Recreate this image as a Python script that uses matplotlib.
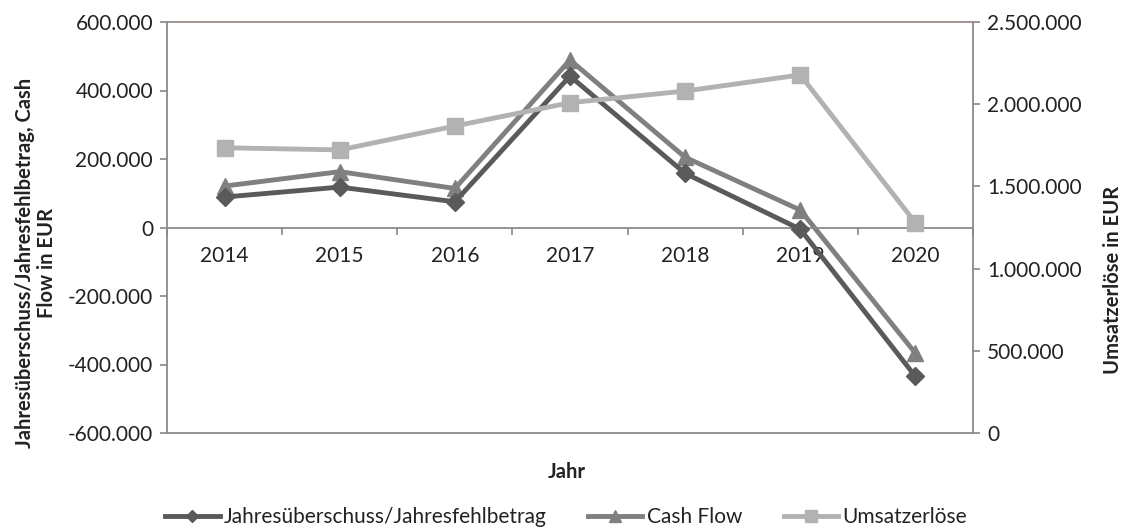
import matplotlib
matplotlib.use("Agg")
import matplotlib.pyplot as plt
from matplotlib.ticker import FuncFormatter, FixedLocator
import numpy as np

years = ["2014", "2015", "2016", "2017", "2018", "2019", "2020"]
jahresueberschuss = [89000, 118000, 75000, 442000, 158000, -5000, -435000]
cash_flow = [121000, 163000, 114000, 489000, 205000, 51000, -367000]
umsatzerloese = [1735000, 1722000, 1867000, 2009000, 2080000, 2178000, 1279000]

plt.rcParams['font.family'] = ['Lato', 'DejaVu Sans']

def de_fmt(v, pos=None):
    s = f"{abs(v):,.0f}".replace(",", ".")
    return ("-" + s) if v < 0 else s

fig = plt.figure(figsize=(11.26, 5.31), dpi=100)
ax = fig.add_axes([167/1126, 1-433/531, (973-167)/1126, (433-22)/531])
ax2 = ax.twinx()

c_j = "#5a5a5a"
c_c = "#808080"
c_u = "#b2b2b2"
tc = "#222222"

x = np.arange(len(years))
l1, = ax.plot(x, jahresueberschuss, color=c_j, lw=3.5, marker="D", ms=9, zorder=3,
              label="Jahresüberschuss/Jahresfehlbetrag")
l2, = ax.plot(x, cash_flow, color=c_c, lw=3.5, marker="^", ms=12, zorder=2,
              label="Cash Flow")
l3, = ax2.plot(x, umsatzerloese, color=c_u, lw=3.5, marker="s", ms=12,
               label="Umsatzerlöse")

ax.set_xlim(-0.5, len(years) - 0.5)
ax.set_ylim(-600000, 600000)
ax2.set_ylim(0, 2500000)
ax.set_yticks(np.arange(-600000, 600001, 200000))
ax2.set_yticks(np.arange(0, 2500001, 500000))
ax.yaxis.set_major_formatter(FuncFormatter(de_fmt))
ax2.yaxis.set_major_formatter(FuncFormatter(de_fmt))

# x axis on the zero line
ax.spines['bottom'].set_position(('data', 0))
ax.set_xticks(x)
ax.set_xticklabels(years)
ax.xaxis.set_minor_locator(FixedLocator(np.arange(-0.5, len(years), 1.0)))
ax.tick_params(axis='x', which='major', length=0, pad=13, labelsize=15, colors=tc)
ax.tick_params(axis='x', which='minor', length=5, width=1.2, color="#888888", direction='out')
ax.tick_params(axis='y', length=5, width=1.2, color="#888888", labelsize=15,
               labelcolor=tc, pad=5)
ax2.tick_params(axis='y', length=5, width=1.2, color="#888888", labelsize=15,
                labelcolor=tc, pad=5)

for a in (ax, ax2):
    for s in a.spines.values():
        s.set_color("#8a8a8a")
        s.set_linewidth(1.3)
ax.spines['top'].set_visible(False)
ax.spines['right'].set_visible(False)
ax2.spines['left'].set_visible(False)
ax2.spines['top'].set_color("#9a8f8a")

fig.text(36/1126, 1-263/531, "Jahresüberschuss/Jahresfehlbetrag, Cash\nFlow in EUR",
         rotation=90, ha='center', va='center', fontsize=14.5, fontweight='bold',
         color=tc, linespacing=1.12)
fig.text(1113/1126, 1-280/531, "Umsatzerlöse in EUR", rotation=90, ha='center',
         va='center', fontsize=14.5, fontweight='bold', color=tc)
fig.text(567/1126, 1-472/531, "Jahr", ha='center', va='center', fontsize=14.5,
         fontweight='bold', color=tc)

fig.legend(handles=[l1, l2, l3], loc='center', bbox_to_anchor=(566/1126, 1-517/531),
           ncol=3, frameon=False, fontsize=15, handlelength=2.6, columnspacing=2.0,
           handletextpad=0.2, labelcolor=tc, markerscale=0.7)

fig.savefig("out.png", dpi=100, facecolor="white")
